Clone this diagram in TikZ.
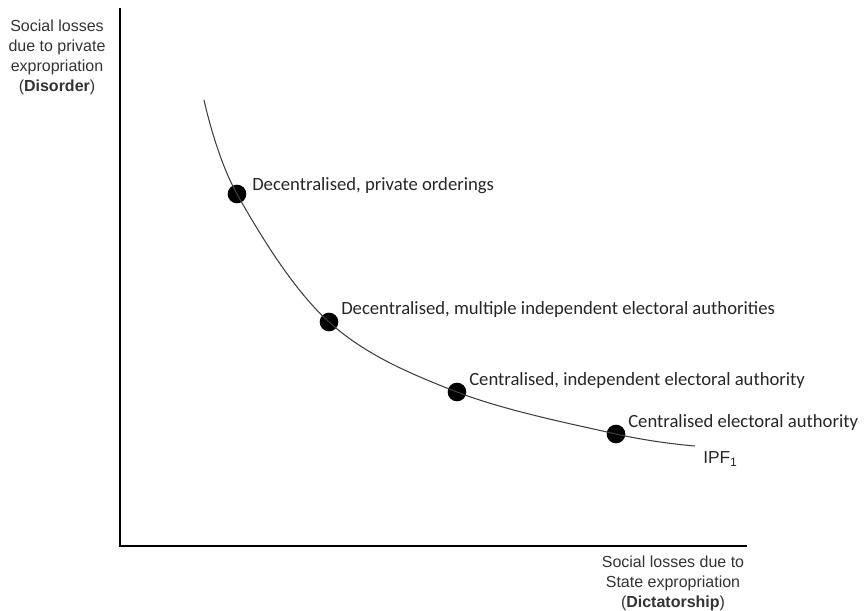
\documentclass[tikz,border=0pt]{standalone}
\usepackage{fontspec}
\setmainfont{Liberation Sans}
\newfontfamily\calib{Carlito}
\begin{document}
\begin{tikzpicture}[
  x=0.75pt, y=-0.75pt,
  axis/.style={line width=1.6pt, black},
  ipf/.style={line width=0.8pt, black!75},
  dot/.style={circle, fill=black, inner sep=0pt, minimum size=14pt},
  plbl/.style={font=\calib\fontsize{14}{16}\selectfont, text=black!85, anchor=west, inner sep=0pt},
  albl/.style={font=\fontsize{12}{15}\selectfont, text=black!80, align=center},
]
\useasboundingbox (0,0) rectangle (865,611);

%% Axes
\coordinate (top)    at (120,8);
\coordinate (origin) at (120,546);
\coordinate (right)  at (747,546);
\draw[axis] (top) -- (origin) -- (right);

%% Axis labels
\node[albl] (ylab) at (57,57) {Social losses\\due to private\\expropriation\\(\textbf{Disorder})};
\node[albl] (xlab) at (673,583) {Social losses due to\\State expropriation\\(\textbf{Dictatorship})};

%% Points on the frontier
\coordinate (s) at (204,100);
\node[dot] (p1) at (237,194) {};
\node[dot] (p2) at (329,322) {};
\node[dot] (p3) at (457,392) {};
\node[dot] (p4) at (616,434) {};
\coordinate (e) at (695,446);

%% Frontier
\draw[ipf] plot[smooth, tension=0.6] coordinates {(s) (p1) (p2) (p3) (p4) (e)};
\node[font=\fontsize{13}{15}\selectfont, text=black!85, anchor=west, inner sep=0pt] (ipflab) at (703,459) {IPF\textsubscript{1}};

%% Labels
\node[plbl] (l1) at (252,186) {Decentralised, private orderings};
\node[plbl] (l2) at (341,310) {Decentralised, multiple independent electoral authorities};
\node[plbl] (l3) at (469,381) {Centralised, independent electoral authority};
\node[plbl] (l4) at (628,423) {Centralised electoral authority};

\end{tikzpicture}
\end{document}
